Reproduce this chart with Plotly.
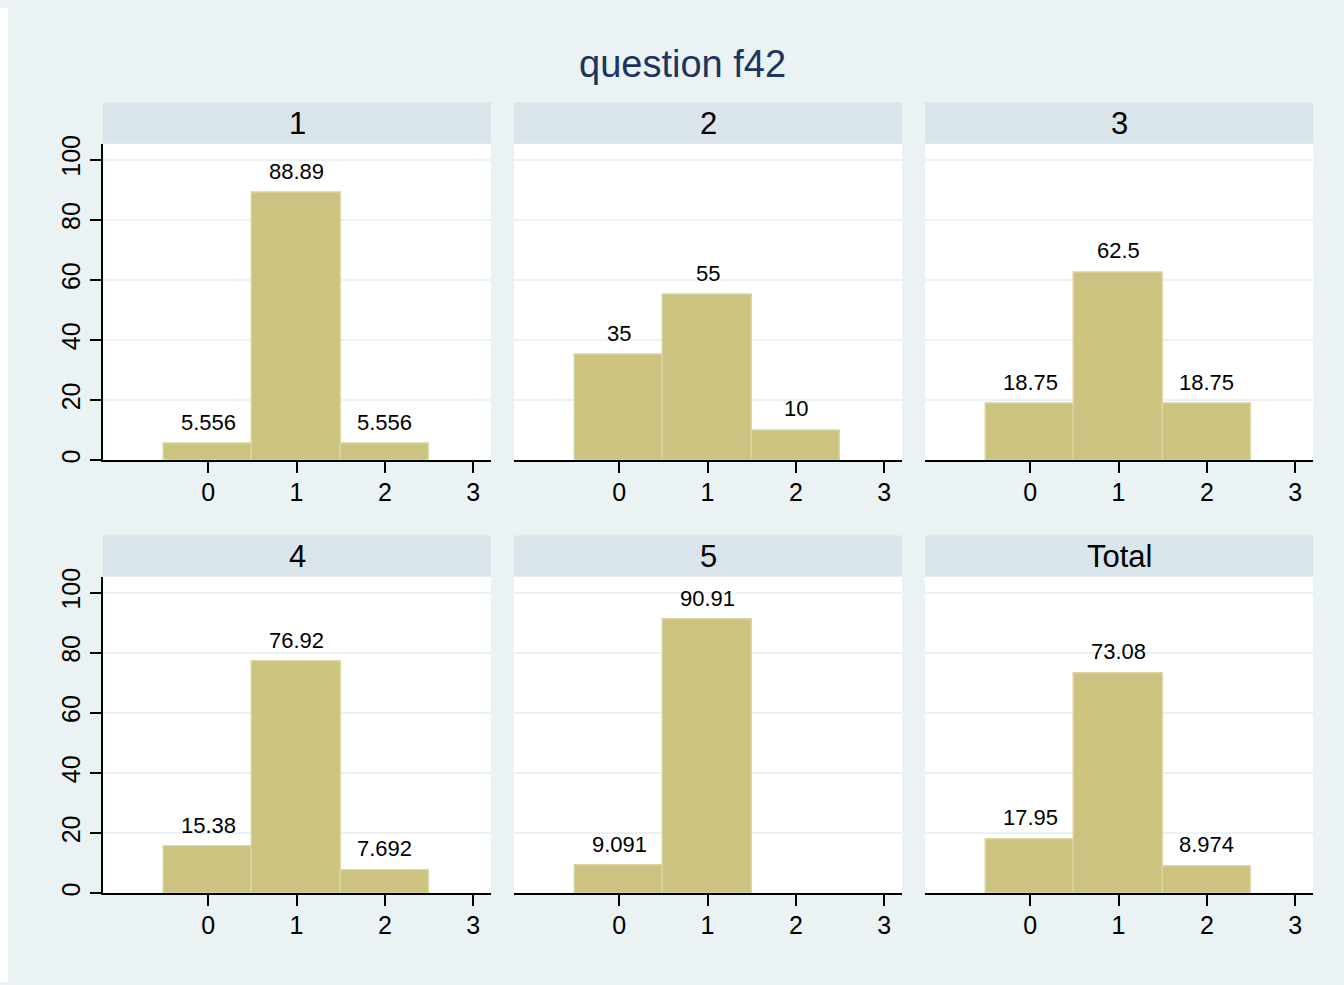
import plotly.graph_objects as go

# Percent of respondents by answer category, one panel per group
groups = ["1", "2", "3", "4", "5", "Total"]
cats_1 = [0, 1, 2]
pct_1 = [5.556, 88.89, 5.556]
cats_2 = [0, 1, 2]
pct_2 = [35, 55, 10]
cats_3 = [0, 1, 2]
pct_3 = [18.75, 62.5, 18.75]
cats_4 = [0, 1, 2]
pct_4 = [15.38, 76.92, 7.692]
cats_5 = [0, 1]
pct_5 = [9.091, 90.91]
cats_total = [0, 1, 2]
pct_total = [17.95, 73.08, 8.974]

x_ticks = [0, 1, 2, 3]
y_ticks = [0, 20, 40, 60, 80, 100]

W, H = 1344, 985
BG = "#EAF2F3"
STRIP = "#D9E5EB"
BAR = "#CBC37F"
BAR_EDGE = "#D9D4A2"
FONT = "Liberation Sans, Arial, sans-serif"

panels = [
    (cats_1, pct_1), (cats_2, pct_2), (cats_3, pct_3),
    (cats_4, pct_4), (cats_5, pct_5), (cats_total, pct_total),
]

# panel geometry in figure pixels
col_x = [(103, 491), (514, 902), (925, 1313)]
row_y = [(137.2, 457.4), (575.0, 895.3)]   # plot area top/bottom
strip_h = 41.6
title_y = 57.1


def px_x(v):
    return v / W


def px_y(v):
    return 1 - v / H


fig = go.Figure()
layout = dict(
    width=W, height=H,
    margin=dict(l=0, r=0, t=0, b=0, pad=0),
    paper_bgcolor=BG, plot_bgcolor="white",
    showlegend=False,
    font=dict(family=FONT, color="black"),
    bargap=0,
)
shapes = [
    # white frame on the left of the graph region
    dict(type="rect", xref="paper", yref="paper", x0=0, x1=px_x(8), y0=0, y1=1,
         fillcolor="white", line_width=0, layer="below"),
]
annotations = [
    dict(text="question f42", xref="paper", yref="paper", x=px_x(682), y=px_y(title_y),
         xanchor="center", yanchor="middle", showarrow=False,
         font=dict(size=38, color="#1C3560", family=FONT)),
]

for i, (cats, vals) in enumerate(panels):
    r, c = divmod(i, 3)
    n = i + 1
    xa = "x" if n == 1 else f"x{n}"
    ya = "y" if n == 1 else f"y{n}"
    x0, x1 = col_x[c]
    top, bot = row_y[r]

    fig.add_trace(go.Bar(
        x=cats, y=vals, width=1, xaxis=xa, yaxis=ya,
        marker=dict(color=BAR, line=dict(color=BAR_EDGE, width=1.5)),
        hoverinfo="x+y",
    ))
    # value labels above each bar
    for cx, v in zip(cats, vals):
        annotations.append(dict(
            text=format(v, ".4g"), x=cx, y=v, xref=xa, yref=ya,
            xanchor="center", yanchor="bottom", yshift=7, showarrow=False,
            font=dict(size=22, color="black", family=FONT),
        ))

    layout[f"xaxis{'' if n == 1 else n}"] = dict(
        domain=[px_x(x0), px_x(x1)], anchor=ya,
        range=[-1.19, 3.2], tickvals=x_ticks,
        showline=True, linecolor="black", linewidth=1.5,
        ticks="outside", ticklen=11, tickwidth=1.5, tickcolor="black",
        ticklabelstandoff=-2,
        showgrid=False, zeroline=False,
        tickfont=dict(size=25, family=FONT, color="black"),
    )
    first = c == 0
    layout[f"yaxis{'' if n == 1 else n}"] = dict(
        domain=[px_y(bot), px_y(top)], anchor=xa,
        range=[0, 105.3], tickvals=y_ticks,
        showgrid=True, gridcolor=BG, gridwidth=2, zeroline=False,
        showline=first, linecolor="black", linewidth=1.5,
        ticks="outside" if first else "", ticklen=11, tickwidth=1.5, tickcolor="black",
        showticklabels=first, tickangle=-90,
        tickfont=dict(size=25, family=FONT, color="black"),
    )

    # header strip with group name
    shapes.append(dict(type="rect", xref="paper", yref="paper",
                       x0=px_x(x0), x1=px_x(x1), y0=px_y(top), y1=px_y(top - strip_h),
                       fillcolor=STRIP, line_width=0, layer="below"))
    annotations.append(dict(text=groups[i], xref="paper", yref="paper",
                            x=px_x((x0 + x1) / 2), y=px_y(top - strip_h / 2),
                            xanchor="center", yanchor="middle", showarrow=False,
                            font=dict(size=31, color="black", family=FONT)))

layout["shapes"] = shapes
layout["annotations"] = annotations
fig.update_layout(**layout)
fig.write_html(
    "out.html",
    post_script=(
        "document.documentElement.style.background='white';"
        "document.body.style.background='white';"
    ),
)
